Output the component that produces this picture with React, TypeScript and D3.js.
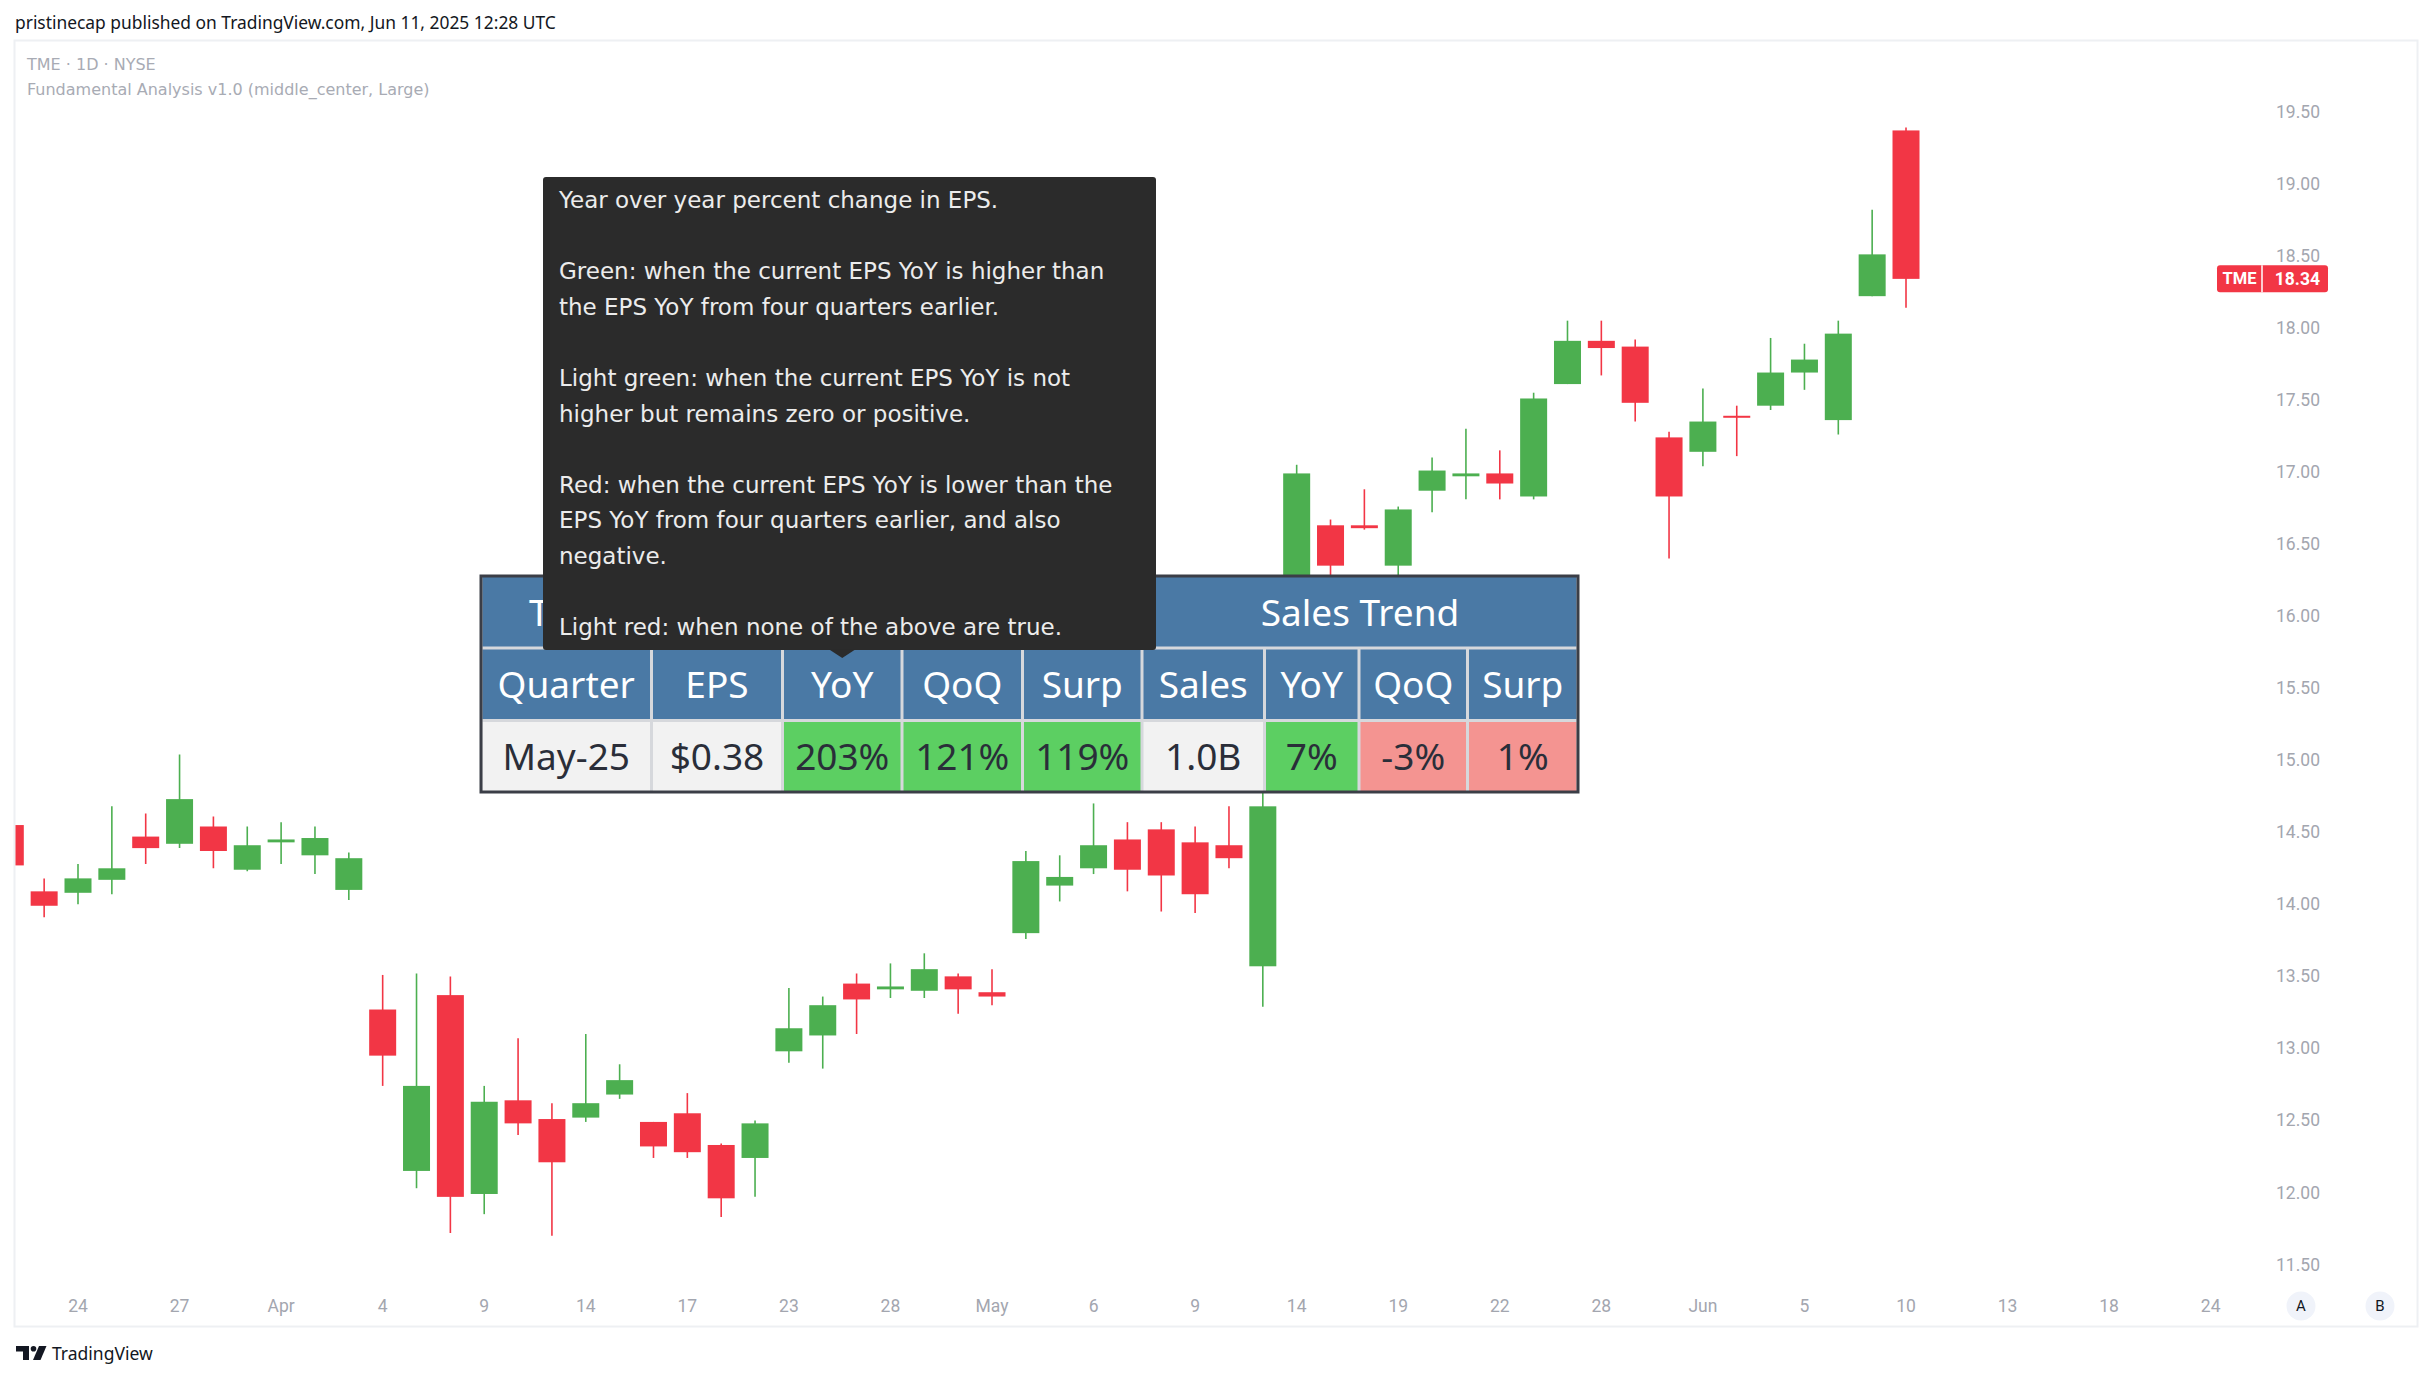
import React from "react";
import * as d3 from "d3";

const W = 2433;
const H = 1380;

// ---------- DATA ----------
const candleDates = [
  "2025-03-20", "2025-03-21", "2025-03-24", "2025-03-25", "2025-03-26", "2025-03-27", "2025-03-28",
  "2025-03-31", "2025-04-01", "2025-04-02", "2025-04-03", "2025-04-04", "2025-04-07", "2025-04-08",
  "2025-04-09", "2025-04-10", "2025-04-11", "2025-04-14", "2025-04-15", "2025-04-16", "2025-04-17",
  "2025-04-21", "2025-04-22", "2025-04-23", "2025-04-24", "2025-04-25", "2025-04-28", "2025-04-29",
  "2025-04-30", "2025-05-01", "2025-05-02", "2025-05-05", "2025-05-06", "2025-05-07", "2025-05-08",
  "2025-05-09", "2025-05-12", "2025-05-13", "2025-05-14", "2025-05-15", "2025-05-16", "2025-05-19",
  "2025-05-20", "2025-05-21", "2025-05-22", "2025-05-23", "2025-05-27", "2025-05-28", "2025-05-29",
  "2025-05-30", "2025-06-02", "2025-06-03", "2025-06-04", "2025-06-05", "2025-06-06", "2025-06-09",
  "2025-06-10",
];
const opens = [
  14.55, 14.09, 14.08, 14.17, 14.47, 14.42, 14.54, 14.24, 14.43, 14.34, 14.10, 13.27, 12.15, 13.37,
  11.99, 12.64, 12.51, 12.52, 12.68, 12.49, 12.55, 12.33, 12.24, 12.98, 13.09, 13.45, 13.41, 13.40,
  13.50, 13.39, 13.80, 14.13, 14.25, 14.45, 14.52, 14.43, 14.41, 13.57, 15.90, 16.63, 16.63, 16.35,
  16.87, 16.97, 16.99, 16.83, 17.61, 17.91, 17.87, 17.24, 17.14, 17.39, 17.46, 17.69, 17.36, 18.22,
  19.37,
];
const highs = [
  14.60, 14.18, 14.28, 14.68, 14.63, 15.04, 14.61, 14.54, 14.57, 14.54, 14.36, 13.51, 13.52, 13.50,
  12.74, 13.07, 12.62, 13.10, 12.89, 12.49, 12.69, 12.34, 12.50, 13.42, 13.36, 13.52, 13.59, 13.66,
  13.52, 13.55, 14.37, 14.34, 14.70, 14.57, 14.57, 14.54, 14.68, 14.85, 17.05, 16.67, 16.88, 16.76,
  17.10, 17.30, 17.15, 17.55, 18.05, 18.05, 17.92, 17.28, 17.58, 17.46, 17.93, 17.89, 18.05, 18.82,
  19.39,
];
const lows = [
  14.20, 13.91, 14.00, 14.07, 14.28, 14.39, 14.25, 14.23, 14.28, 14.21, 14.03, 12.74, 12.03, 11.72,
  11.85, 12.40, 11.70, 12.49, 12.65, 12.24, 12.24, 11.83, 11.97, 12.90, 12.86, 13.10, 13.35, 13.35,
  13.24, 13.30, 13.76, 14.02, 14.21, 14.09, 13.95, 13.94, 14.25, 13.29, 15.75, 16.25, 16.60, 16.25,
  16.72, 16.81, 16.81, 16.81, 17.61, 17.67, 17.35, 16.40, 17.04, 17.11, 17.43, 17.57, 17.26, 18.22,
  18.14,
];
const closes = [
  14.27, 13.99, 14.18, 14.25, 14.39, 14.73, 14.37, 14.41, 14.45, 14.46, 14.32, 12.95, 12.74, 11.97,
  12.63, 12.48, 12.21, 12.62, 12.78, 12.32, 12.28, 11.96, 12.48, 13.14, 13.30, 13.34, 13.43, 13.55,
  13.41, 13.36, 14.30, 14.19, 14.41, 14.24, 14.20, 14.07, 14.32, 14.68, 16.99, 16.35, 16.61, 16.74,
  17.01, 16.99, 16.92, 17.51, 17.91, 17.86, 17.48, 16.83, 17.35, 17.38, 17.69, 17.78, 17.96, 18.51,
  18.34,
];
const futureDates = [
  "2025-06-11", "2025-06-12", "2025-06-13", "2025-06-16", "2025-06-17", "2025-06-18", "2025-06-20",
  "2025-06-23", "2025-06-24",
];
const timeTickDates = [
  "2025-03-24", "2025-03-27", "2025-04-01", "2025-04-04", "2025-04-09", "2025-04-14", "2025-04-17",
  "2025-04-23", "2025-04-28", "2025-05-01", "2025-05-06", "2025-05-09", "2025-05-14", "2025-05-19",
  "2025-05-22", "2025-05-28", "2025-06-02", "2025-06-05", "2025-06-10", "2025-06-13", "2025-06-18",
  "2025-06-24",
];
const timeTickLabels = [
  "24", "27", "Apr", "4", "9", "14", "17", "23", "28", "May", "6", "9", "14", "19", "22", "28", "Jun",
  "5", "10", "13", "18", "24",
];
const priceTicks = [11.5, 12, 12.5, 13, 13.5, 14, 14.5, 15, 15.5, 16, 16.5, 17, 17.5, 18, 18.5, 19, 19.5];
const symbol = "TME";
const lastPrice = 18.34;

const headerText = "pristinecap published on TradingView.com, Jun 11, 2025 12:28 UTC";
const legendLines = ["TME · 1D · NYSE", "Fundamental Analysis v1.0 (middle_center, Large)"];

const tableTitles = ["TME", "EPS Trend", "Sales Trend"];
const tableTitleSpans = [1, 4, 4];
const tableHeaders = ["Quarter", "EPS", "YoY", "QoQ", "Surp", "Sales", "YoY", "QoQ", "Surp"];
const tableValues = ["May-25", "$0.38", "203%", "121%", "119%", "1.0B", "7%", "-3%", "1%"];
const tableKinds = ["plain", "plain", "green", "green", "green", "plain", "green", "lightred", "lightred"];

const tooltipLines = [
  "Year over year percent change in EPS.",
  "",
  "Green: when the current EPS YoY is higher than",
  "the EPS YoY from four quarters earlier.",
  "",
  "Light green: when the current EPS YoY is not",
  "higher but remains zero or positive.",
  "",
  "Red: when the current EPS YoY is lower than the",
  "EPS YoY from four quarters earlier, and also",
  "negative.",
  "",
  "Light red: when none of the above are true.",
];

// ---------- STYLE ----------
const UP = "#4caf50";
const DOWN = "#f23645";
const AXIS_TEXT = "#a3a6af";
const FONT = "'Noto Sans', 'Open Sans', sans-serif";
const WIDE_FONT = "'DejaVu Sans', 'Noto Sans', sans-serif";
const AXIS_FONT = "Roboto, 'Noto Sans', sans-serif";

const kindFill: Record<string, string> = {
  plain: "#f2f2f2",
  green: "#5ccf62",
  lightred: "#f49491",
};

export default function App() {
  const allDates = [...candleDates, ...futureDates];
  const step = 33.852;
  const start = 78 - 2.5 * step;
  const x = d3
    .scaleBand<string>()
    .domain(allDates)
    .range([start, start + allDates.length * step])
    .padding(0);
  const cx = (d: string) => (x(d) as number) + x.bandwidth() / 2;
  const y = d3.scaleLinear().domain([11.5, 19.5]).range([1264.6, 111.7]);
  const bodyW = 27;

  const candles = candleDates.map((d, i) => ({
    d,
    o: opens[i],
    h: highs[i],
    l: lows[i],
    c: closes[i],
  }));

  // table layout
  const tLeft = 481;
  const tRight = 1578;
  const colEdges = [481, 651.5, 782.5, 902, 1022.5, 1142, 1264.5, 1359, 1467.5, 1578];
  const rowEdges = [576, 648, 720.5, 792];
  const tableFont = 37;

  // tooltip layout
  const tipL = 543;
  const tipR = 1156;
  const tipT = 177;
  const tipB = 650;
  const arrowX = (colEdges[2] + colEdges[3]) / 2;

  const lastY = y(lastPrice);

  return (
    <svg
      width={W}
      height={H}
      style={{ position: "absolute", left: 0, top: 0, background: "#fff" }}
      xmlns="http://www.w3.org/2000/svg"
    >
      <defs>
        <clipPath id="pane">
          <rect x={15.5} y={41} width={2200} height={1240} />
        </clipPath>
      </defs>
      <rect x={0} y={0} width={W} height={H} fill="#fff" />
      <text x={15} y={22} dominantBaseline="central" fontFamily={FONT} fontSize={17.4} fill="#131722">
        {headerText}
      </text>
      <rect x={14.5} y={40.5} width={2403} height={1286} fill="#fff" stroke="#eef0f3" strokeWidth={2} />

      {/* candles */}
      <g clipPath="url(#pane)">
        {candles.map((k) => {
          const col = k.c >= k.o ? UP : DOWN;
          const top = y(Math.max(k.o, k.c));
          const bot = y(Math.min(k.o, k.c));
          return (
            <g key={k.d}>
              <line x1={cx(k.d)} x2={cx(k.d)} y1={y(k.h)} y2={y(k.l)} stroke={col} strokeWidth={1.6} />
              <rect x={cx(k.d) - bodyW / 2} y={top} width={bodyW} height={Math.max(2, bot - top)} fill={col} />
            </g>
          );
        })}
      </g>

      {/* legend */}
      {legendLines.map((t, i) => (
        <text key={t} x={27} y={64 + i * 25} dominantBaseline="central" fontFamily={WIDE_FONT} fontSize={16} fill="#a8abb4">
          {t}
        </text>
      ))}

      {/* price axis */}
      {priceTicks.map((p) => (
        <text key={p} x={2320} y={y(p)} textAnchor="end" dominantBaseline="central" fontFamily={AXIS_FONT} fontSize={17.5} fill={AXIS_TEXT}>
          {d3.format(".2f")(p)}
        </text>
      ))}

      {/* last price label */}
      <g>
        <rect x={2217} y={lastY - 13.5} width={111} height={27} rx={3} fill={DOWN} />
        <line x1={2262} x2={2262} y1={lastY - 13.5} y2={lastY + 13.5} stroke="#fff" strokeWidth={1.5} />
        <text x={2239.5} y={lastY} textAnchor="middle" dominantBaseline="central" fontFamily={AXIS_FONT} fontWeight={700} fontSize={16.5} fill="#fff">
          {symbol}
        </text>
        <text x={2320} y={lastY} textAnchor="end" dominantBaseline="central" fontFamily={AXIS_FONT} fontWeight={700} fontSize={17.5} fill="#fff">
          {d3.format(".2f")(lastPrice)}
        </text>
      </g>

      {/* time axis */}
      {timeTickDates.map((d, i) => (
        <text key={d} x={cx(d)} y={1306} textAnchor="middle" dominantBaseline="central" fontFamily={AXIS_FONT} fontSize={17.5} fill={AXIS_TEXT}>
          {timeTickLabels[i]}
        </text>
      ))}
      {["A", "B"].map((t, i) => (
        <g key={t}>
          <circle cx={i === 0 ? 2301 : 2380} cy={1306} r={14.5} fill="#f0f3fa" />
          <text x={i === 0 ? 2301 : 2380} y={1306} textAnchor="middle" dominantBaseline="central" fontFamily={AXIS_FONT} fontSize={15} fill="#131722">
            {t}
          </text>
        </g>
      ))}

      {/* table */}
      <g>
        <rect x={tLeft} y={rowEdges[0]} width={tRight - tLeft} height={rowEdges[3] - rowEdges[0]} fill="#d6d8dc" />
        {(() => {
          let c = 0;
          return tableTitles.map((t, i) => {
            const x0 = colEdges[c];
            const x1 = colEdges[c + tableTitleSpans[i]];
            c += tableTitleSpans[i];
            return (
              <g key={t}>
                <rect x={x0 + 1.5} y={rowEdges[0]} width={x1 - x0 - 3} height={rowEdges[1] - rowEdges[0] - 1.5} fill="#4a79a5" />
                <text x={(x0 + x1) / 2} y={(rowEdges[0] + rowEdges[1]) / 2 - 1} textAnchor="middle" dominantBaseline="central" fontFamily={FONT} fontSize={tableFont} fill="#fff">
                  {t}
                </text>
              </g>
            );
          });
        })()}
        {tableHeaders.map((t, i) => (
          <g key={"h" + i}>
            <rect x={colEdges[i] + 1.5} y={rowEdges[1] + 1.5} width={colEdges[i + 1] - colEdges[i] - 3} height={rowEdges[2] - rowEdges[1] - 3} fill="#4a79a5" />
            <text x={(colEdges[i] + colEdges[i + 1]) / 2} y={(rowEdges[1] + rowEdges[2]) / 2 - 1} textAnchor="middle" dominantBaseline="central" fontFamily={FONT} fontSize={tableFont} fill="#fff">
              {t}
            </text>
          </g>
        ))}
        {tableValues.map((t, i) => (
          <g key={"v" + i}>
            <rect x={colEdges[i] + 1.5} y={rowEdges[2] + 1.5} width={colEdges[i + 1] - colEdges[i] - 3} height={rowEdges[3] - rowEdges[2] - 1.5} fill={kindFill[tableKinds[i]]} />
            <text x={(colEdges[i] + colEdges[i + 1]) / 2} y={(rowEdges[2] + rowEdges[3]) / 2 - 1} textAnchor="middle" dominantBaseline="central" fontFamily={FONT} fontSize={tableFont} fill="#2a2e39">
              {t}
            </text>
          </g>
        ))}
        <rect x={tLeft} y={rowEdges[0]} width={tRight - tLeft} height={rowEdges[3] - rowEdges[0]} fill="none" stroke="#3b3e47" strokeWidth={3} />
      </g>

      {/* tooltip */}
      <g>
        <rect x={tipL} y={tipT} width={tipR - tipL} height={tipB - tipT} rx={3} fill="#2b2b2b" />
        <path d={`M${arrowX - 13},${tipB - 0.5} L${arrowX},${tipB + 8} L${arrowX + 13},${tipB - 0.5} Z`} fill="#2b2b2b" />
        {tooltipLines.map((t, i) => (
          <text key={i} x={559} y={200 + i * 35.6} dominantBaseline="central" fontFamily={WIDE_FONT} fontSize={23} fill="#ececec">
            {t}
          </text>
        ))}
      </g>

      {/* footer logo */}
      <g fill="#131722">
        <path d="M16,1346 H29 V1360 H23 V1351.5 H16 Z" />
        <circle cx={33.5} cy={1348.8} r={2.8} />
        <path d="M39,1346 H46.5 L40.5,1360 H33 Z" />
        <text x={52} y={1353} dominantBaseline="central" fontFamily={FONT} fontSize={17.5} fill="#131722">
          TradingView
        </text>
      </g>
    </svg>
  );
}
